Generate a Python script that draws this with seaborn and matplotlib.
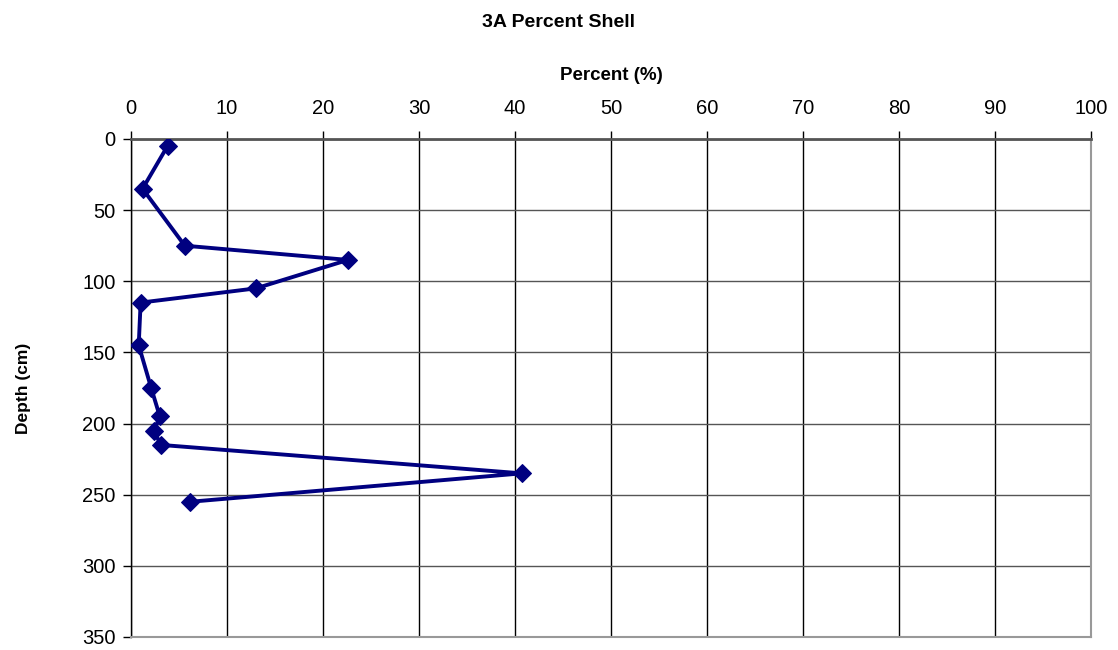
import matplotlib
matplotlib.use("Agg")
import matplotlib.pyplot as plt
import seaborn as sns
import pandas as pd

# Shell content by depth, core 3A
depth_cm = [5, 35, 75, 85, 105, 115, 145, 175, 195, 205, 215, 235, 255]
percent_shell = [3.8, 1.2, 5.6, 22.6, 13.0, 1.0, 0.8, 2.1, 3.0, 2.4, 3.1, 40.7, 6.1]

x_ticks = list(range(0, 101, 10))
y_ticks = list(range(0, 351, 50))

sns.set_theme(style="white")
plt.rcParams["font.family"] = ["Liberation Sans", "DejaVu Sans"]
plt.rcParams["text.color"] = "black"
plt.rcParams["axes.labelcolor"] = "black"
plt.rcParams["xtick.color"] = "black"
plt.rcParams["ytick.color"] = "black"

df = pd.DataFrame({"Percent": percent_shell, "Depth": depth_cm})

fig = plt.figure(figsize=(11.18, 6.5), dpi=100)
ax = fig.add_axes([0.1172, 0.02, 0.8586, 0.7662])

sns.lineplot(data=df, x="Percent", y="Depth", orient="y", sort=False,
             color="#000080", linewidth=2.8, marker="D", markersize=9,
             markeredgecolor="#000080", ax=ax, zorder=3)

ax.set_xlim(0, 100)
ax.set_ylim(350, 0)
ax.set_xticks(x_ticks)
ax.set_yticks(y_ticks)
ax.xaxis.tick_top()
ax.xaxis.set_label_position("top")
ax.tick_params(axis="x", which="major", direction="out", length=6, width=1,
               color="black", labelcolor="black", labelsize=14.5, pad=9)
ax.tick_params(axis="y", which="major", direction="out", length=6, width=1,
               color="black", labelcolor="black", labelsize=14.5, pad=5)
ax.tick_params(top=True, bottom=False, left=True, right=False)

ax.grid(True, axis="x", color="black", linewidth=1.0)
ax.grid(True, axis="y", color="#555555", linewidth=1.0)
ax.set_axisbelow(True)

ax.spines["top"].set_color("#555555")
ax.spines["top"].set_linewidth(2.0)
ax.spines["left"].set_color("black")
ax.spines["left"].set_linewidth(1.0)
ax.spines["right"].set_color("#999999")
ax.spines["right"].set_linewidth(1.5)
ax.spines["bottom"].set_color("#999999")
ax.spines["bottom"].set_linewidth(1.5)

ax.set_xlabel("Percent (%)", fontsize=13.5, fontweight="bold", labelpad=14)
ax.set_ylabel("Depth (cm)", fontsize=12.5, fontweight="bold", labelpad=37)
fig.suptitle("3A Percent Shell", fontsize=14, fontweight="bold",
             x=0.5, y=0.966, va="center")

fig.savefig("out.png", dpi=100, facecolor="white")
